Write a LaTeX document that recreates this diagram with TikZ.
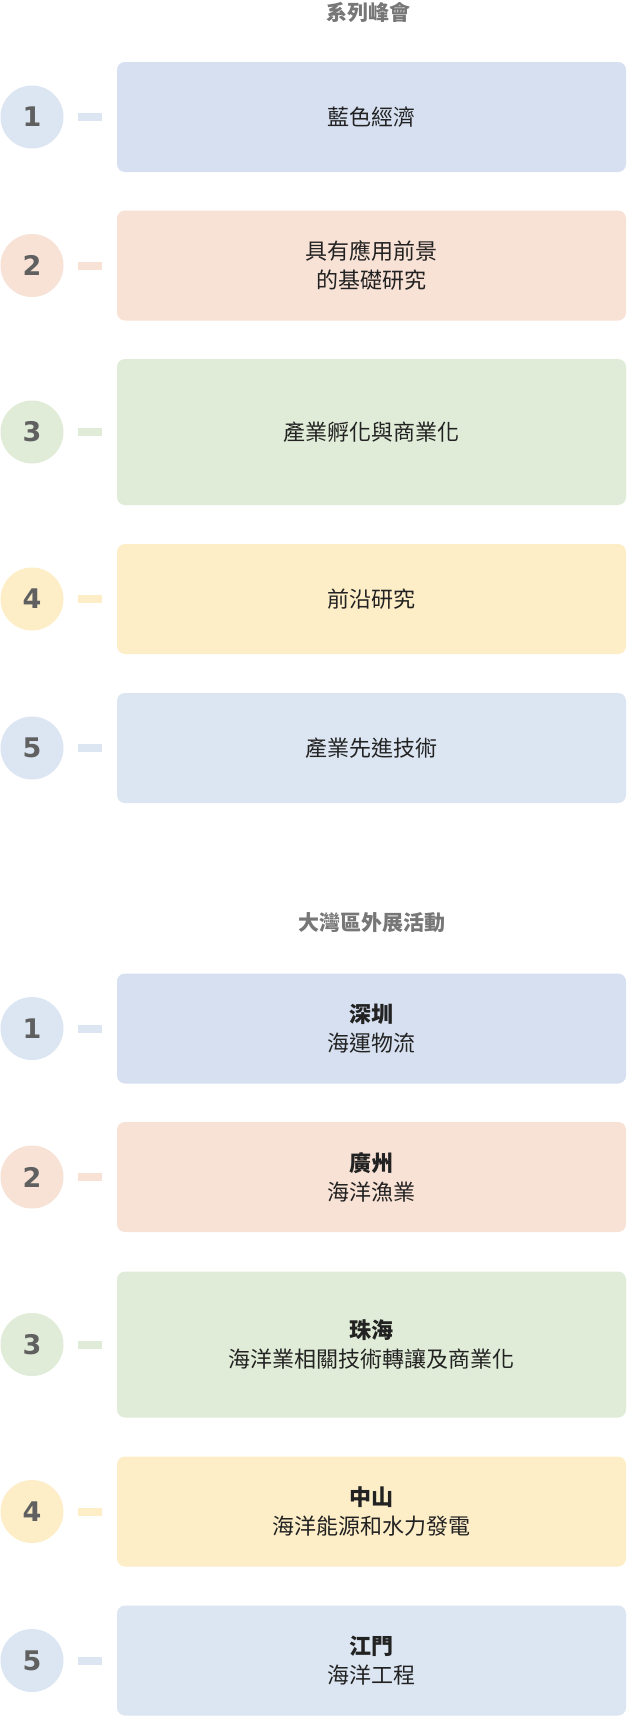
\documentclass[tikz,border=0pt]{standalone}
\usepackage{fontspec}
\setmainfont{Noto Sans}
\newfontfamily\cjk{Noto Sans CJK TC}
\newfontfamily\numfont{DejaVu Sans}
\usetikzlibrary{positioning}
\definecolor{seablue}{HTML}{D6E0F0}
\definecolor{seapeach}{HTML}{F8E1D5}
\definecolor{seagreen}{HTML}{E0ECD7}
\definecolor{seasand}{HTML}{FDEEC8}
\definecolor{seasky}{HTML}{DCE6F2}
\definecolor{numgray}{HTML}{606060}
\definecolor{titlegray}{HTML}{777777}
\definecolor{textdark}{HTML}{222222}

\begin{document}
\begin{tikzpicture}[
    x=1pt, y=-1pt,
    every node/.style={font=\cjk},
    card/.style={fill=#1, rounded corners=8pt, minimum width=509pt, minimum height=110pt,
                 inner sep=0pt, text=textdark, align=center, font=\cjk\fontsize{22}{29}\selectfont},
    tallcard/.style={card=#1, minimum height=146pt},
    num/.style={circle, fill=#1, minimum size=63pt, inner sep=0pt, text=numgray,
                font=\numfont\bfseries\fontsize{27}{27}\selectfont},
    tick/.style={draw=#1, line width=8pt},
    head/.style={text=titlegray, font=\cjk\bfseries\fontsize{21}{26}\selectfont},
]

% Page
\useasboundingbox[fill=white] (0,0) rectangle (627,1716);

% =============================================
% SERIES SUMMITS
% =============================================
\node[head] (headA) at (368, 12) {系列峰會};

\node[card=seablue] (boxA1) at (371.5, 117) {藍色經濟};
\node[num=seasky] (numA1) at (32, 117) {1};

\node[card=seapeach] (boxA2) at (371.5, 265.5) {具有應用前景\\的基礎研究};
\node[num=seapeach] (numA2) at (32, 265.5) {2};

\node[tallcard=seagreen] (boxA3) at (371.5, 432) {產業孵化與商業化};
\node[num=seagreen] (numA3) at (32, 432) {3};

\node[card=seasand] (boxA4) at (371.5, 599) {前沿研究};
\node[num=seasand] (numA4) at (32, 599) {4};

\node[card=seasky] (boxA5) at (371.5, 748) {產業先進技術};
\node[num=seasky] (numA5) at (32, 748) {5};

% ticks
\draw[tick=seasky] ([xshift=14pt]numA1.east) -- ([xshift=-15pt]boxA1.west);
\draw[tick=seapeach] ([xshift=14pt]numA2.east) -- ([xshift=-15pt]boxA2.west);
\draw[tick=seagreen] ([xshift=14pt]numA3.east) -- ([xshift=-15pt]boxA3.west);
\draw[tick=seasand] ([xshift=14pt]numA4.east) -- ([xshift=-15pt]boxA4.west);
\draw[tick=seasky] ([xshift=14pt]numA5.east) -- ([xshift=-15pt]boxA5.west);

% =============================================
% GREATER BAY AREA OUTREACH
% =============================================
\node[head] (headB) at (372, 923) {大灣區外展活動};

\node[card=seablue] (boxB1) at (371.5, 1028.5) {\textbf{深圳}\\海運物流};
\node[num=seasky] (numB1) at (32, 1028.5) {1};

\node[card=seapeach] (boxB2) at (371.5, 1177) {\textbf{廣州}\\海洋漁業};
\node[num=seapeach] (numB2) at (32, 1177) {2};

\node[tallcard=seagreen] (boxB3) at (371.5, 1344.5) {\textbf{珠海}\\海洋業相關技術轉讓及商業化};
\node[num=seagreen] (numB3) at (32, 1344.5) {3};

\node[card=seasand] (boxB4) at (371.5, 1511.5) {\textbf{中山}\\海洋能源和水力發電};
\node[num=seasand] (numB4) at (32, 1511.5) {4};

\node[card=seasky] (boxB5) at (371.5, 1660.5) {\textbf{江門}\\海洋工程};
\node[num=seasky] (numB5) at (32, 1660.5) {5};

% ticks
\draw[tick=seasky] ([xshift=14pt]numB1.east) -- ([xshift=-15pt]boxB1.west);
\draw[tick=seapeach] ([xshift=14pt]numB2.east) -- ([xshift=-15pt]boxB2.west);
\draw[tick=seagreen] ([xshift=14pt]numB3.east) -- ([xshift=-15pt]boxB3.west);
\draw[tick=seasand] ([xshift=14pt]numB4.east) -- ([xshift=-15pt]boxB4.west);
\draw[tick=seasky] ([xshift=14pt]numB5.east) -- ([xshift=-15pt]boxB5.west);

\end{tikzpicture}
\end{document}
